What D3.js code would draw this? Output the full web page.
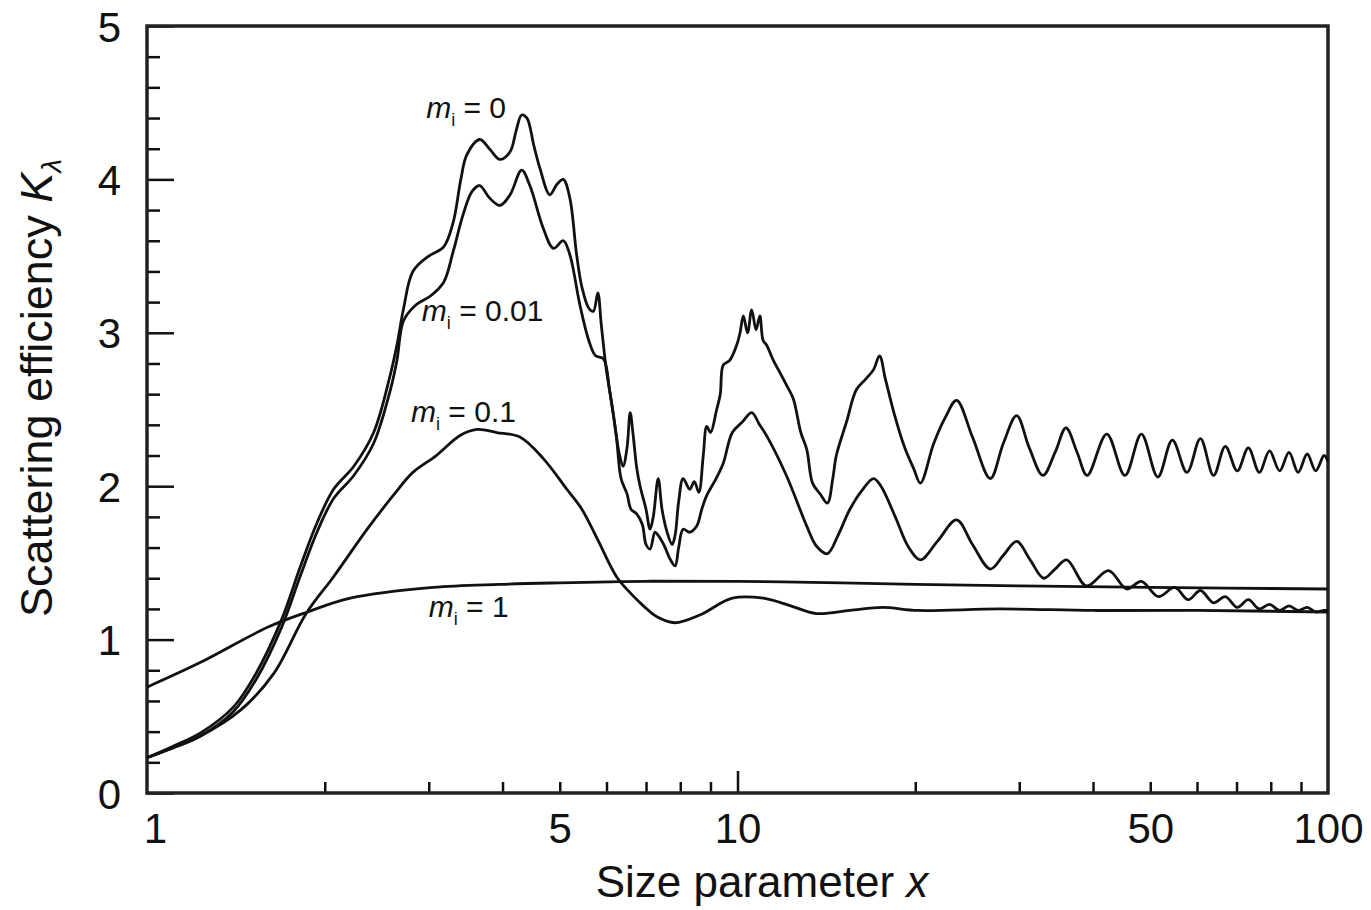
<!DOCTYPE html>
<html>
<head>
<meta charset="utf-8">
<script src="https://cdn.jsdelivr.net/npm/d3@7"></script>
<style>
  body { margin: 0; background: #fff; }
  text { font-family: "Liberation Sans", Arial, sans-serif; fill: #111; }
</style>
</head>
<body>
<div id="chart"></div>
<script>
// curve data: [size parameter x, scattering efficiency K]
const curveM0 = [
  [1,0.23],[1.1,0.30],[1.23,0.39],[1.4,0.56],[1.53,0.78],[1.69,1.13],[1.82,1.48],[1.94,1.76],
  [2.07,1.98],[2.24,2.13],[2.42,2.35],[2.58,2.72],[2.65,2.92],[2.72,3.16],[2.82,3.40],[3.0,3.50],
  [3.18,3.56],[3.30,3.72],[3.40,4.00],[3.48,4.16],[3.66,4.26],[3.8,4.20],[3.96,4.13],[4.12,4.18],
  [4.22,4.32],[4.31,4.42],[4.40,4.40],[4.52,4.22],[4.63,4.07],[4.81,3.90],[4.95,3.97],[5.07,4.00],
  [5.20,3.88],[5.34,3.51],[5.45,3.30],[5.6,3.16],[5.7,3.14],[5.8,3.26],[5.88,3.05],[6.0,2.75],
  [6.1,2.58],[6.2,2.40],[6.3,2.22],[6.4,2.13],[6.5,2.25],[6.58,2.48],[6.65,2.35],[6.75,2.12],
  [6.84,2.00],[7.0,1.85],[7.11,1.72],[7.2,1.80],[7.34,2.05],[7.45,1.85],[7.6,1.70],[7.75,1.62],
  [7.84,1.68],[7.95,1.90],[8.09,2.05],[8.3,1.98],[8.45,2.03],[8.6,1.96],[8.75,2.20],[8.87,2.39],
  [9.0,2.35],[9.22,2.50],[9.35,2.60],[9.46,2.79],[9.7,2.82],[9.97,2.92],[10.1,3.0],[10.23,3.11],
  [10.4,3.0],[10.57,3.15],[10.75,3.02],[10.91,3.11],[11.05,2.95],[11.2,2.92],[11.5,2.82],[11.8,2.74],
  [12.1,2.66],[12.43,2.57],[12.8,2.35],[13.1,2.24],[13.4,2.02],[13.8,1.95],[14.2,1.89],[14.5,2.05],
  [14.7,2.20],[15.3,2.42],[15.9,2.63],[16.5,2.70],[17.0,2.76],[17.4,2.85],[17.8,2.70],[18.4,2.48],
  [19.2,2.25],[19.9,2.11],[20.4,2.02],[21.5,2.28],[22.5,2.45],[23.5,2.56],[25,2.32],[26.8,2.05],
  [28.2,2.28],[29.7,2.46],[31.2,2.25],[32.9,2.07],[34.5,2.22],[36.0,2.38],[37.6,2.22],[39.1,2.07],
  [42.2,2.34],[45.3,2.07],[48.3,2.34],[51.5,2.06],[54.5,2.30],[57.7,2.09],[60.8,2.31],[64,2.07],
  [67,2.26],[70.2,2.10],[73.3,2.25],[76.5,2.09],[79.6,2.23],[82.8,2.10],[85.9,2.22],[89,2.09],
  [92.2,2.21],[95.3,2.10],[98.5,2.20],[100,2.16]
];
const curveM001 = [
  [1,0.23],[1.1,0.29],[1.23,0.37],[1.4,0.53],[1.53,0.74],[1.69,1.08],[1.82,1.42],[1.94,1.70],
  [2.07,1.92],[2.24,2.07],[2.42,2.28],[2.58,2.62],[2.65,2.82],[2.72,3.08],[2.85,3.18],[3.02,3.24],
  [3.18,3.33],[3.30,3.53],[3.43,3.77],[3.55,3.92],[3.66,3.96],[3.8,3.88],[3.96,3.83],[4.12,3.90],
  [4.31,4.06],[4.45,3.96],[4.69,3.68],[4.88,3.55],[5.07,3.60],[5.20,3.51],[5.41,3.18],[5.6,2.95],
  [5.75,2.85],[5.93,2.83],[6.08,2.61],[6.24,2.31],[6.35,2.05],[6.5,1.95],[6.6,1.85],[6.75,1.82],
  [6.9,1.75],[7.0,1.62],[7.11,1.59],[7.25,1.70],[7.34,1.68],[7.5,1.62],[7.7,1.52],[7.84,1.48],
  [7.95,1.60],[8.09,1.72],[8.3,1.70],[8.53,1.74],[8.7,1.85],[8.87,1.94],[9.2,2.05],[9.46,2.15],
  [9.8,2.35],[10.2,2.42],[10.57,2.48],[10.9,2.40],[11.2,2.33],[12.1,2.07],[13.1,1.74],[13.6,1.61],
  [14.2,1.56],[14.8,1.68],[15.5,1.85],[16.3,1.98],[17.0,2.05],[17.5,2.00],[18.5,1.80],[19.5,1.60],
  [20.4,1.52],[21.8,1.64],[23.5,1.78],[25,1.62],[26.8,1.46],[28.2,1.55],[29.7,1.64],[31.3,1.52],
  [33.0,1.40],[34.5,1.46],[36.1,1.52],[39.0,1.35],[42.5,1.45],[45.6,1.33],[48.3,1.38],[51.6,1.28],
  [55.0,1.34],[58,1.26],[60.8,1.32],[64,1.24],[67,1.28],[70.2,1.21],[73.3,1.26],[76.5,1.20],
  [79.6,1.23],[82.8,1.19],[85.9,1.22],[89,1.19],[92.2,1.21],[95.3,1.18],[98.5,1.19],[100,1.19]
];
const curveM01 = [
  [1,0.23],[1.1,0.29],[1.23,0.37],[1.44,0.54],[1.64,0.78],[1.86,1.17],[2.07,1.41],[2.36,1.72],
  [2.60,1.93],[2.82,2.09],[3.09,2.20],[3.39,2.33],[3.62,2.37],[3.91,2.35],[4.28,2.32],[4.69,2.18],
  [5.14,1.98],[5.45,1.85],[5.8,1.65],[6.24,1.41],[6.6,1.30],[6.93,1.22],[7.29,1.15],[7.84,1.11],
  [8.63,1.16],[9.8,1.27],[11.06,1.27],[12.3,1.22],[13.6,1.17],[15.5,1.19],[17.6,1.21],[20.2,1.19],
  [27.8,1.20],[40,1.19],[60,1.19],[100,1.18]
];
const curveM1 = [
  [1,0.69],[1.23,0.85],[1.6,1.08],[1.87,1.18],[2.21,1.27],[3.05,1.34],[3.96,1.36],[5,1.37],
  [7,1.38],[10,1.38],[15,1.37],[20,1.36],[30,1.35],[50,1.34],[100,1.33]
];

// curve labels: value of the imaginary index and the point the label sits at
const labelValues = ["0", "0.01", "0.1", "1"];
const labelAnchors = [[2.97, 4.40], [2.92, 3.08], [2.80, 2.42], [3.0, 1.15]];

const xLabelTicks = [1, 5, 10, 50, 100];
const xMinorTicks = [2, 3, 4, 5, 6, 7, 8, 9, 20, 30, 40, 50, 60, 70, 80, 90];
const yLabelTicks = [0, 1, 2, 3, 4, 5];
const yMinorTicks = d3.range(0, 25).map(i => +(i * 0.2).toFixed(1)).filter(v => v % 1 !== 0);

function drawChart() {
    d3.select("#chart").selectAll("*").remove();

    let svg = d3.select("#chart").append("svg")
        .attr("width", 1371).attr("height", 910);

    let x = d3.scaleLog().domain([1, 100]).range([147, 1328]);
    let y = d3.scaleLinear().domain([0, 5]).range([793, 26]);

    // y axis, ticks pointing into the plot
    svg.append("g")
        .attr("transform", "translate(147,0)")
        .call(d3.axisLeft(y).tickValues(yMinorTicks).tickSize(-13).tickFormat(""))
        .call(g => g.select(".domain").remove());
    svg.append("g")
        .attr("transform", "translate(147,0)")
        .call(d3.axisLeft(y).tickValues(yLabelTicks).tickSize(-27).tickPadding(26).tickFormat(d3.format("d")))
        .call(g => g.select(".domain").remove())
        .call(g => g.selectAll("text").style("font-size", "42px").attr("dy", "0.36em"));

    // x axis
    svg.append("g")
        .attr("transform", "translate(0,793)")
        .call(d3.axisBottom(x).tickValues(xMinorTicks).tickSize(-11).tickFormat(""))
        .call(g => g.select(".domain").remove());
    svg.append("g")
        .attr("transform", "translate(0,793)")
        .call(d3.axisBottom(x).tickValues([10]).tickSize(-22).tickFormat(""))
        .call(g => g.select(".domain").remove());
    svg.append("g")
        .attr("transform", "translate(0,793)")
        .call(d3.axisBottom(x).tickValues(xLabelTicks).tickSize(0).tickPadding(20).tickFormat(d3.format("d")))
        .call(g => g.select(".domain").remove())
        .call(g => g.selectAll("text").style("font-size", "42px"))
        .call(g => g.selectAll(".tick").filter(d => d === 1).select("text").attr("dx", 8));

    svg.selectAll(".tick line").attr("stroke", "#111").attr("stroke-width", 2.5);

    // frame
    svg.append("rect")
        .attr("x", 147).attr("y", 26)
        .attr("width", 1328 - 147).attr("height", 793 - 26)
        .attr("fill", "none").attr("stroke", "#222").attr("stroke-width", 3.5);

    // curves
    let line = d3.line()
        .x(d => x(d[0]))
        .y(d => y(d[1]))
        .curve(d3.curveCatmullRom.alpha(0.5));

    [curveM0, curveM001, curveM01, curveM1].forEach(series => {
        svg.append("path")
            .attr("d", line(series))
            .attr("fill", "none")
            .attr("stroke", "#111")
            .attr("stroke-width", 2.8)
            .attr("stroke-linejoin", "round");
    });

    // curve labels  m_i = ...
    labelValues.forEach((v, i) => {
        let t = svg.append("text")
            .attr("x", x(labelAnchors[i][0]))
            .attr("y", y(labelAnchors[i][1]))
            .style("font-size", "30px");
        t.append("tspan").style("font-style", "italic").text("m");
        t.append("tspan").attr("dy", 8).style("font-size", "18px").text("i");
        t.append("tspan").attr("dy", -8).text(" = " + v);
    });

    // axis titles
    let xt = svg.append("text")
        .attr("x", 762).attr("y", 897)
        .attr("text-anchor", "middle")
        .style("font-size", "44px")
        .text("Size parameter ");
    xt.append("tspan").style("font-style", "italic").text("x");

    let yt = svg.append("text")
        .attr("transform", "translate(52,388) rotate(-90)")
        .attr("text-anchor", "middle")
        .style("font-size", "45px")
        .text("Scattering efficiency ");
    yt.append("tspan").style("font-style", "italic").text("K");
    yt.append("tspan").attr("dy", 9).style("font-size", "28px").style("font-style", "italic").text("λ");
}

drawChart();
</script>
</body>
</html>
